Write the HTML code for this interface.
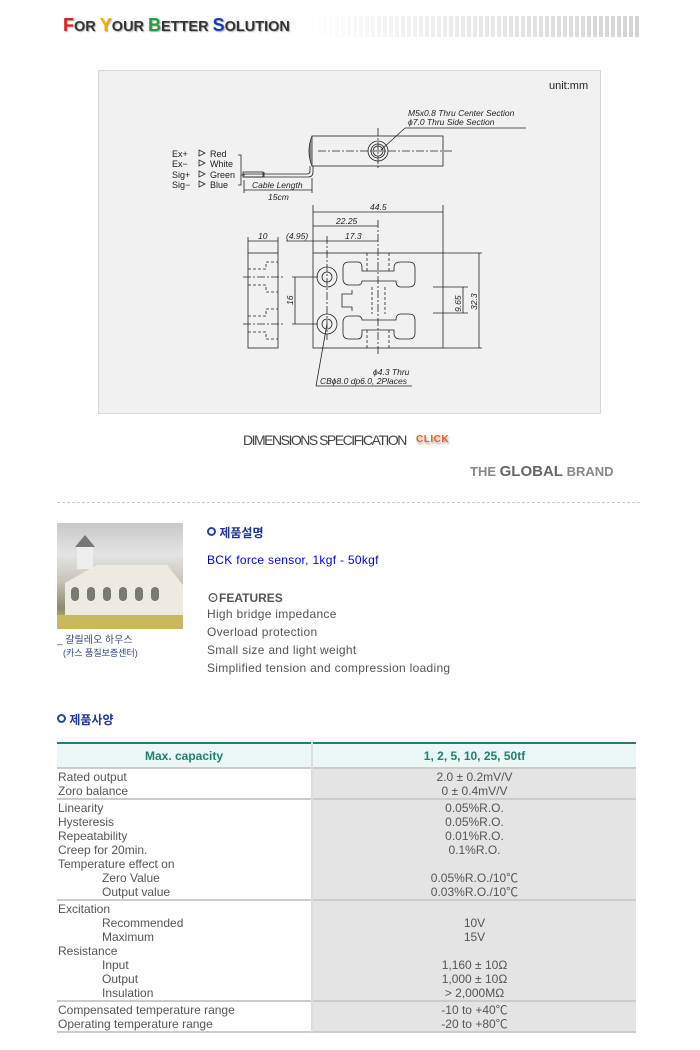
<!DOCTYPE html>
<html><head><meta charset="utf-8">
<style>
body{margin:0;width:700px;height:1050px;background:#fff;position:relative;font-family:"Liberation Sans","Noto Sans CJK KR",sans-serif;overflow:hidden}
.a{position:absolute;white-space:nowrap}
.t{font-size:12px;color:#555;letter-spacing:0.3px}
table{border-collapse:collapse}
td{vertical-align:top}
</style></head><body>
<div class="a" style="left:305px;top:16px;width:335px;height:21px;background:repeating-linear-gradient(90deg,rgba(255,255,255,0) 0 4px,#fff 4px 6px),linear-gradient(90deg,#fff,#d4d4d4)"></div>
<div class="a" style="left:63px;top:15px;font-size:14.5px;font-weight:bold;color:#333;text-shadow:1px 1px 1px #aaa;letter-spacing:0;background:#fff;padding-right:2px"><span style="color:#e02020;font-size:18px">F</span>OR <span style="color:#f0b000;font-size:18px">Y</span>OUR <span style="color:#20a040;font-size:18px">B</span>ETTER <span style="color:#1040c0;font-size:18px">S</span>OLUTION</div>

<div class="a" style="left:98px;top:70px;width:501px;height:342px;background:#f1f1f1;border:1px solid #d8d8d8"></div>
<svg class="a" style="left:0;top:0" width="700" height="420" font-family="Liberation Sans,sans-serif" font-size="8.5" fill="none" stroke="#222" stroke-width="0.8">
<text x="549" y="89" font-size="11" fill="#222" stroke="none">unit:mm</text>
<text x="408" y="116" font-style="italic" fill="#222" stroke="none">M5x0.8 Thru Center Section</text>
<text x="408" y="125" font-style="italic" fill="#222" stroke="none">ϕ7.0 Thru Side Section</text>
<line x1="405" y1="128" x2="526" y2="128"/><line x1="405" y1="128" x2="381" y2="150"/>
<rect x="312" y="136" width="131" height="30"/>
<path d="M312 136 q-6 15 0 30" fill="#888"/>
<line x1="318" y1="151" x2="453" y2="151" stroke-dasharray="8,2,2,2"/>
<line x1="378" y1="128" x2="378" y2="170" stroke-dasharray="8,2,2,2"/>
<circle cx="378" cy="151" r="10"/><circle cx="378" cy="151" r="7"/><circle cx="378" cy="151" r="5"/>
<path d="M310 166 v5 q0 3 -3 3 h-64 M313 166 v6 q0 5 -5 5 h-65"/>
<rect x="243" y="172" width="20" height="5"/><line x1="264" y1="172" x2="264" y2="177"/>
<path d="M238 155 h3 v30 h-3 M241 175 h4"/>
<g fill="#222" stroke="none" font-size="9"><text x="172" y="157">Ex+</text><text x="172" y="167">Ex−</text><text x="172" y="178">Sig+</text><text x="172" y="188">Sig−</text>
<text x="210" y="157">Red</text><text x="210" y="167">White</text><text x="210" y="178">Green</text><text x="210" y="188">Blue</text></g>
<g stroke-width="0.8"><path d="M199 150 l6 3 l-6 3z M199 160 l6 3 l-6 3z M199 171 l6 3 l-6 3z M199 181 l6 3 l-6 3z"/></g>
<text x="252" y="188" font-style="italic" fill="#222" stroke="none">Cable Length</text>
<line x1="244" y1="190" x2="312" y2="190"/><line x1="244" y1="180" x2="244" y2="193"/><line x1="312" y1="178" x2="312" y2="193"/>
<text x="268" y="200" font-style="italic" fill="#222" stroke="none">15cm</text>
<line x1="313" y1="205" x2="313" y2="253"/><line x1="443" y1="205" x2="443" y2="253"/>
<line x1="313" y1="212" x2="443" y2="212"/><text x="370" y="210" font-style="italic" fill="#222" stroke="none">44.5</text>
<line x1="313" y1="226" x2="378" y2="226"/><text x="336" y="224" font-style="italic" fill="#222" stroke="none">22.25</text>
<line x1="286" y1="241" x2="378" y2="241"/><text x="345" y="239" font-style="italic" fill="#222" stroke="none">17.3</text>
<text x="286" y="239" font-style="italic" fill="#222" stroke="none">(4.95)</text>
<line x1="248" y1="241" x2="278" y2="241"/><text x="258" y="239" font-style="italic" fill="#222" stroke="none">10</text>
<line x1="248" y1="237" x2="248" y2="253"/><line x1="278" y1="237" x2="278" y2="253"/>
<rect x="248" y="253" width="30" height="95"/>
<path d="M248 269 h18 v-7 h12 M248 285 h18 v7 h12" stroke-dasharray="3,2"/>
<path d="M248 316 h18 v-7 h12 M248 332 h18 v7 h12" stroke-dasharray="3,2"/>
<line x1="243" y1="277" x2="285" y2="277" stroke-dasharray="8,2,2,2"/><line x1="243" y1="324" x2="285" y2="324" stroke-dasharray="8,2,2,2"/>
<rect x="313" y="253" width="130" height="95"/>
<circle cx="327" cy="277" r="10"/><circle cx="327" cy="277" r="5"/>
<circle cx="327" cy="324" r="10"/><circle cx="327" cy="324" r="5"/>
<line x1="327" y1="236" x2="327" y2="340" stroke-dasharray="8,2,2,2"/>
<line x1="378" y1="220" x2="378" y2="355" stroke-dasharray="8,2,2,2"/>
<path d="M350 262 h8 q4 0 4 6 v3 h32 v-3 q0 -6 6 -6 h9 q6 0 6 6 v13 q0 6 -6 6 h-8 q-5 0 -5 -6 h-34 q0 3 -3 4 h-10 q-5 0 -6 -5 v-12 q0 -6 6 -6z"/>
<path d="M350 339 h8 q4 0 4 -6 v-3 h32 v3 q0 6 6 6 h9 q6 0 6 -6 v-13 q0 -6 -6 -6 h-8 q-5 0 -5 6 h-34 q0 -3 -3 -4 h-10 q-5 0 -6 5 v12 q0 6 6 6z"/>
<path d="M352 290 v4 h-10 v13 h10 v4"/>
<path d="M372 287 v27 M385 287 v27 M367 253 v18 M389 253 v18 M367 330 v18 M389 330 v18" stroke-dasharray="3,2"/>
<line x1="433" y1="287" x2="468" y2="287"/><line x1="433" y1="313" x2="468" y2="313"/>
<line x1="463" y1="287" x2="463" y2="313"/><text transform="translate(461 312) rotate(-90)" font-style="italic" fill="#222" stroke="none">9.65</text>
<line x1="443" y1="253" x2="482" y2="253"/><line x1="443" y1="348" x2="482" y2="348"/>
<line x1="479" y1="253" x2="479" y2="348"/><text transform="translate(477 310) rotate(-90)" font-style="italic" fill="#222" stroke="none">32.3</text>
<line x1="292" y1="277" x2="318" y2="277"/><line x1="292" y1="324" x2="318" y2="324"/>
<line x1="295" y1="277" x2="295" y2="324"/><text transform="translate(293 305) rotate(-90)" font-style="italic" fill="#222" stroke="none">16</text>
<line x1="327" y1="324" x2="316" y2="386"/><line x1="316" y1="386" x2="412" y2="386"/>
<text x="373" y="375" font-style="italic" fill="#222" stroke="none">ϕ4.3 Thru</text>
<text x="320" y="384" font-style="italic" fill="#222" stroke="none">CBϕ8.0 dp6.0, 2Places</text>
</svg>

<div class="a" style="left:243px;top:432px;font-size:14px;color:#444;letter-spacing:-1.5px">DIMENSIONS SPECIFICATION</div>
<div class="a" style="left:416px;top:434px;font-size:10px;font-weight:bold;color:#f06010;text-shadow:1px 2px 2px #999;letter-spacing:0.5px">CLICK</div>
<div class="a" style="left:470px;top:463px;font-size:13px;color:#888;font-weight:bold">THE <span style="color:#666;font-size:15px">GLOBAL</span> BRAND</div>
<div class="a" style="left:57px;top:502px;width:583px;border-top:1px dashed #ccc"></div>

<div class="a" style="left:57px;top:523px;width:126px;height:106px;background:linear-gradient(180deg,#c8c8c8 0,#e4e4e4 30%,#c9c3b8 55%,#8a8a70 80%,#d8cc80 100%)"></div>
<svg class="a" style="left:57px;top:523px" width="126" height="106"><path d="M8 60 L40 42 L110 42 L126 62 V92 H8z" fill="#eeeae0"/><g fill="#7a7a70"><rect x="14" y="64" width="8" height="14" rx="4"/><rect x="30" y="64" width="8" height="14" rx="4"/><rect x="46" y="64" width="8" height="14" rx="4"/><rect x="62" y="64" width="8" height="14" rx="4"/><rect x="78" y="64" width="8" height="14" rx="4"/><rect x="94" y="64" width="8" height="14" rx="4"/></g><rect x="20" y="22" width="16" height="24" fill="#eee"/><path d="M18 24 L28 12 L38 24z" fill="#777"/><rect x="0" y="92" width="126" height="14" fill="#c8b860"/></svg>
<div class="a" style="left:57px;top:631px;font-size:10px;color:#334488">_ 갈릴레오 하우스</div>
<div class="a" style="left:63px;top:646px;font-size:9px;color:#334488">(카스 품질보증센터)</div>

<div class="a" style="left:207px;top:524px;font-size:12px;font-weight:bold;color:#223399"><span style="display:inline-block;width:5px;height:5px;border:2px solid #2244aa;border-radius:50%;vertical-align:1px"></span> 제품설명</div>
<div class="a" style="left:207px;top:553px;font-size:12px;color:#0000ee;letter-spacing:0.3px">BCK force sensor, 1kgf - 50kgf</div>
<div class="a" style="left:207px;top:589px;font-size:12px;font-weight:bold;color:#555">⊙FEATURES</div>
<div class="a t" style="left:207px;top:607px">High bridge impedance</div>
<div class="a t" style="left:207px;top:625px">Overload protection</div>
<div class="a t" style="left:207px;top:643px">Small size and light weight</div>
<div class="a t" style="left:207px;top:661px">Simplified tension and compression loading</div>

<div class="a" style="left:57px;top:711px;font-size:12px;font-weight:bold;color:#223399"><span style="display:inline-block;width:5px;height:5px;border:2px solid #2244aa;border-radius:50%;vertical-align:1px"></span> 제품사양</div>

<table class="a" style="left:57px;top:742px;width:579px;border-top:2px solid #208070;font-size:12px;color:#555;line-height:14px">
<tr style="background:#eaf7f6;color:#208070;font-weight:bold;height:25px"><td style="width:254px;text-align:center;border-right:2px solid #ddd;padding:0;vertical-align:middle">Max. capacity</td><td style="text-align:center;padding:0;vertical-align:middle">1, 2, 5, 10, 25, 50tf</td></tr>
<tr style="border-top:2px solid #ccc;height:31px"><td style="padding:1px 1px 0;border-right:2px solid #ddd">Rated output<br>Zoro balance</td><td style="background:#e4e4e4;text-align:center;padding:1px 0 0">2.0 ± 0.2mV/V<br>0 ± 0.4mV/V</td></tr>
<tr style="border-top:2px solid #ccc;height:101px"><td style="padding:1px 1px 0;border-right:2px solid #ddd">Linearity<br>Hysteresis<br>Repeatability<br>Creep for 20min.<br>Temperature effect on<br><span style="padding-left:44px">Zero Value</span><br><span style="padding-left:44px">Output value</span></td><td style="background:#e4e4e4;text-align:center;padding:1px 0 0">0.05%R.O.<br>0.05%R.O.<br>0.01%R.O.<br>0.1%R.O.<br>&nbsp;<br>0.05%R.O./10℃<br>0.03%R.O./10℃</td></tr>
<tr style="border-top:2px solid #ccc;height:101px"><td style="padding:1px 1px 0;border-right:2px solid #ddd">Excitation<br><span style="padding-left:44px">Recommended</span><br><span style="padding-left:44px">Maximum</span><br>Resistance<br><span style="padding-left:44px">Input</span><br><span style="padding-left:44px">Output</span><br><span style="padding-left:44px">Insulation</span></td><td style="background:#e4e4e4;text-align:center;padding:1px 0 0">&nbsp;<br>10V<br>15V<br>&nbsp;<br>1,160 ± 10Ω<br>1,000 ± 10Ω<br>&gt; 2,000MΩ</td></tr>
<tr style="border-top:2px solid #ccc;border-bottom:2px solid #ccc;height:31px"><td style="padding:1px 1px 0;border-right:2px solid #ddd">Compensated temperature range<br>Operating temperature range</td><td style="background:#e4e4e4;text-align:center;padding:1px 0 0">-10 to +40℃<br>-20 to +80℃</td></tr>
</table>
</body></html>
